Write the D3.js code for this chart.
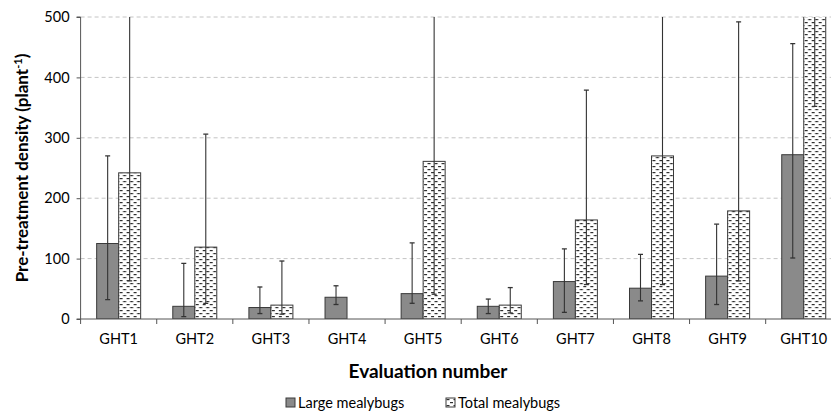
<!DOCTYPE html>
<html>
<head>
<meta charset="utf-8">
<script src="https://cdn.jsdelivr.net/npm/d3@7"></script>
<style>
  html, body { margin: 0; padding: 0; background: #fff; }
  svg { display: block; }
  text { font-family: Lato, "Open Sans", "Liberation Sans", sans-serif; fill: #000; }
</style>
</head>
<body>
<svg id="chart" width="831" height="412"></svg>
<script>
// Pre-treatment mealybug densities per evaluation, with lower/upper error limits
const categories = ["GHT1", "GHT2", "GHT3", "GHT4", "GHT5", "GHT6", "GHT7", "GHT8", "GHT9", "GHT10"];
const seriesNames = ["Large mealybugs", "Total mealybugs"];
const largeValues = [125, 21, 19, 36, 42, 21, 62, 51, 71, 272];
const largeLower  = [32, 4, 9, 24, 26, 9, 11, 30, 24, 101];
const largeUpper  = [270, 92, 53, 55, 126, 33, 116, 107, 157, 456];
const totalValues = [242, 119, 23, null, 261, 23, 164, 270, 179, 610];
const totalLower  = [63, 26, 8, null, 41, 10, 57, 57, 63, 352];
const totalUpper  = [640, 306, 96, null, 700, 52, 379, 690, 492, 870];
const yTicks = [0, 100, 200, 300, 400, 500];

const svg = d3.select("#chart");
const plot = { left: 80.6, right: 841.8, top: 17, bottom: 319 };

const x0 = d3.scaleBand().domain(categories).range([plot.left, plot.right]).padding(0);
const barW = 22;
const x1 = d3.scaleBand().domain(seriesNames)
  .range([x0.bandwidth() / 2 - barW, x0.bandwidth() / 2 + barW]).padding(0);
const y = d3.scaleLinear().domain([0, 500]).range([plot.bottom, plot.top]);

// Hatch pattern for the total series
const defs = svg.append("defs");
const pat = defs.append("pattern").attr("id", "dashes")
  .attr("patternUnits", "userSpaceOnUse").attr("width", 7).attr("height", 6);
pat.append("rect").attr("width", 7).attr("height", 6).attr("fill", "#fff");
pat.append("rect").attr("x", 0.5).attr("y", 1).attr("width", 3).attr("height", 1.2).attr("fill", "#2e2e2e");
pat.append("rect").attr("x", 4).attr("y", 4).attr("width", 3).attr("height", 1.2).attr("fill", "#2e2e2e");

defs.append("clipPath").attr("id", "plotClip").append("rect")
  .attr("x", plot.left).attr("y", plot.top)
  .attr("width", plot.right - plot.left).attr("height", plot.bottom - plot.top);

// Gridlines
svg.append("g").selectAll("line").data(yTicks.filter(d => d > 0)).join("line")
  .attr("x1", plot.left).attr("x2", 831)
  .attr("y1", d => y(d)).attr("y2", d => y(d))
  .attr("stroke", "#c4c4c4").attr("stroke-width", 1).attr("stroke-dasharray", "4,3");

const rows = categories.map((c, i) => ({
  cat: c,
  items: [
    { s: seriesNames[0], v: largeValues[i], lo: largeLower[i], hi: largeUpper[i], fill: "#8a8a8a" },
    { s: seriesNames[1], v: totalValues[i], lo: totalLower[i], hi: totalUpper[i], fill: "url(#dashes)" }
  ]
}));

const content = svg.append("g").attr("clip-path", "url(#plotClip)");
const groups = content.selectAll("g.grp").data(rows).join("g")
  .attr("class", "grp").attr("transform", d => `translate(${x0(d.cat)},0)`);

groups.selectAll("rect").data(d => d.items.filter(e => e.v != null)).join("rect")
  .attr("x", d => x1(d.s)).attr("width", x1.bandwidth())
  .attr("y", d => y(d.v)).attr("height", d => y(0) - y(d.v))
  .attr("fill", d => d.fill).attr("stroke", "#3a3a3a").attr("stroke-width", 1);

// Error bars
const eb = groups.selectAll("g.err").data(d => d.items.filter(e => e.lo != null)).join("g").attr("class", "err");
const cx = d => x1(d.s) + x1.bandwidth() / 2;
eb.append("line").attr("x1", cx).attr("x2", cx)
  .attr("y1", d => y(d.lo)).attr("y2", d => y(d.hi))
  .attr("stroke", "#333").attr("stroke-width", 1.1);
eb.append("line").attr("x1", d => cx(d) - 2.5).attr("x2", d => cx(d) + 2.5)
  .attr("y1", d => y(d.lo)).attr("y2", d => y(d.lo))
  .attr("stroke", "#333").attr("stroke-width", 1.3);
eb.filter(d => d.hi <= 500).append("line").attr("x1", d => cx(d) - 2.5).attr("x2", d => cx(d) + 2.5)
  .attr("y1", d => y(d.hi)).attr("y2", d => y(d.hi))
  .attr("stroke", "#333").attr("stroke-width", 1.3);

// Y axis
const yAxis = svg.append("g").attr("transform", `translate(${plot.left},0)`)
  .call(d3.axisLeft(y).tickValues(yTicks).tickSize(4).tickPadding(7));
yAxis.select(".domain").attr("stroke", "#555").attr("d", `M-4,${plot.top}H0V${plot.bottom}`);
yAxis.selectAll(".tick line").attr("stroke", "#555");
yAxis.selectAll(".tick text").attr("font-size", "14.5px").attr("fill", "#000");

// X axis with ticks between categories
const xAxis = svg.append("g");
xAxis.append("line").attr("x1", plot.left - 4).attr("x2", 831)
  .attr("y1", plot.bottom).attr("y2", plot.bottom).attr("stroke", "#555");
xAxis.selectAll("line.tk").data(categories).join("line").attr("class", "tk")
  .attr("x1", d => x0(d)).attr("x2", d => x0(d))
  .attr("y1", plot.bottom).attr("y2", plot.bottom + 5).attr("stroke", "#555");
xAxis.selectAll("text").data(categories).join("text")
  .attr("x", d => x0(d) + x0.bandwidth() / 2).attr("y", 344)
  .attr("text-anchor", "middle").attr("font-size", "14.5px").text(d => d);

// Axis titles
const yt = svg.append("text")
  .attr("transform", "translate(28,168) rotate(-90)")
  .attr("text-anchor", "middle").attr("font-size", "17px").attr("font-weight", "bold");
yt.append("tspan").text("Pre-treatment density (plant");
yt.append("tspan").attr("font-size", "11px").attr("dy", "-6").text("-1");
yt.append("tspan").attr("dy", "6").text(")");

svg.append("text").attr("x", 428).attr("y", 378).attr("text-anchor", "middle")
  .attr("font-size", "19px").attr("font-weight", "bold").text("Evaluation number");

// Legend
const legend = svg.append("g");
const legendItems = [
  { name: seriesNames[0], fill: "#8a8a8a", x: 286 },
  { name: seriesNames[1], fill: "url(#dashes)", x: 446 }
];
const li = legend.selectAll("g").data(legendItems).join("g")
  .attr("transform", d => `translate(${d.x},398)`);
li.append("rect").attr("width", 9).attr("height", 9)
  .attr("fill", d => d.fill).attr("stroke", "#3a3a3a");
li.append("text").attr("x", 12).attr("y", 9.5).attr("font-size", "14.5px").text(d => d.name);
</script>
</body>
</html>
